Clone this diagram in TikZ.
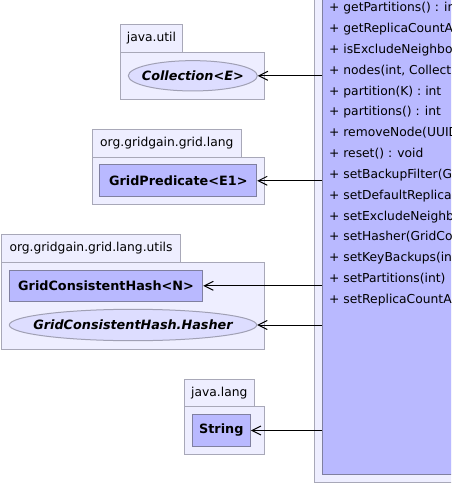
\documentclass[tikz,border=0pt]{standalone}
\usepackage{fontspec}
\setmainfont{DejaVu Sans}
\usetikzlibrary{arrows.meta,shapes.geometric}
\definecolor{pkgfill}{RGB}{238,238,255}
\definecolor{pkgdraw}{RGB}{168,168,184}
\definecolor{clsfill}{RGB}{185,185,255}
\definecolor{clsdraw}{RGB}{128,128,160}
\definecolor{ifill}{RGB}{221,221,255}
\definecolor{idraw}{RGB}{160,160,180}
\tikzset{
  pkg/.style={draw=pkgdraw, fill=pkgfill, line width=1pt},
  cls/.style={draw=clsdraw, fill=clsfill, line width=1pt},
  iface/.style={draw=idraw, fill=ifill, line width=1pt},
  lbl/.style={inner sep=0pt, font=\fontsize{12.3}{14}\selectfont},
  clsname/.style={inner sep=0pt, font=\fontsize{12.8}{14}\selectfont\bfseries},
  ifname/.style={inner sep=0pt, font=\fontsize{12.8}{14}\selectfont\bfseries\itshape},
  meth/.style={inner sep=0pt, anchor=base west, font=\fontsize{12.3}{14}\selectfont},
  dep/.style={-{Straight Barb[length=9pt,width=9pt,line width=1pt]}, line width=1pt, black}
}
\begin{document}
\begin{tikzpicture}[x=1pt,y=-1pt]
\useasboundingbox (0,0) rectangle (451,484);
\clip (0,0) rectangle (451,484);
% right package and class
\draw[pkg] (314,-10) rectangle (470,482);
\draw[cls] (322,-10) rectangle (470,474);
\foreach \t [count=\i from 0] in {%
  {+ getPartitions() : in},
  {+ getReplicaCountA},
  {+ isExcludeNeighbo},
  {+ nodes(int, Collect},
  {+ partition(K) : int},
  {+ partitions() : int},
  {+ removeNode(UUID},
  {+ reset() : void},
  {+ setBackupFilter(G},
  {+ setDefaultReplica},
  {+ setExcludeNeighb},
  {+ setHasher(GridCo},
  {+ setKeyBackups(in},
  {+ setPartitions(int)},
  {+ setReplicaCountA}}
  \node[meth] (m\i) at (329,{12+20.8*\i}) {\t};
% java.util
\draw[pkg] (120.3,24.3) rectangle (182.7,52.3);
\draw[pkg] (120.3,52.3) rectangle (264.7,99.3);
\node[lbl] (putil) at (151.5,38.5) {java.util};
\node[iface, ellipse, minimum width=129pt, minimum height=30.3pt, inner sep=0pt] (coll) at (192.8,75.8) {};
\node[ifname] (colllbl) at (192.8,75.8) {Collection<E>};
% org.gridgain.grid.lang
\draw[pkg] (92.3,129.3) rectangle (241.3,157.3);
\draw[pkg] (92.3,157.3) rectangle (264.7,204);
\node[lbl] (plang) at (166.8,143.5) {org.gridgain.grid.lang};
\node[cls, minimum width=156.7pt, minimum height=31.7pt, inner sep=0pt] (pred) at (178.3,180.8) {};
\node[clsname] (predlbl) at (178.3,180.8) {GridPredicate<E1>};
% org.gridgain.grid.lang.utils
\draw[pkg] (1.7,234.3) rectangle (180.3,262.3);
\draw[pkg] (1.7,262.3) rectangle (264.7,349.3);
\node[lbl] (putils) at (91,248.5) {org.gridgain.grid.lang.utils};
\node[cls, minimum width=193.4pt, minimum height=31pt, inner sep=0pt] (hash) at (106,285.8) {};
\node[clsname] (hashlbl) at (106,285.8) {GridConsistentHash<N>};
\node[iface, ellipse, minimum width=247.4pt, minimum height=31.4pt, inner sep=0pt] (hasher) at (133,325) {};
\node[ifname] (hasherlbl) at (133,325) {GridConsistentHash.Hasher};
% java.lang
\draw[pkg] (184.3,379.3) rectangle (254.3,406);
\draw[pkg] (184.3,406) rectangle (264.7,454.3);
\node[lbl] (pjlang) at (219.3,392.8) {java.lang};
\node[cls, minimum width=58pt, minimum height=32.4pt, inner sep=0pt] (str) at (221.3,430.5) {};
\node[clsname] (strlbl) at (221.3,430.5) {String};
% dependencies
\coordinate (s1) at (322,75.8);
\coordinate (s2) at (322,180.8);
\coordinate (s3) at (322,285.8);
\coordinate (s4) at (322,325);
\coordinate (s5) at (322,430.5);
\draw[dep] (s1) -- (coll.east);
\draw[dep] (s2) -- (pred.east);
\draw[dep] (s3) -- (hash.east);
\draw[dep] (s4) -- (hasher.east);
\draw[dep] (s5) -- (str.east);
\end{tikzpicture}
\end{document}
